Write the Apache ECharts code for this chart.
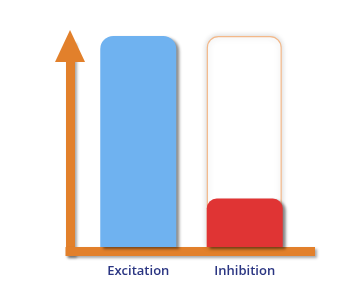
<!DOCTYPE html>
<html><head><meta charset="utf-8">
<script src="https://cdn.jsdelivr.net/npm/echarts@6/dist/echarts.min.js"></script>
<style>html,body{margin:0;padding:0;background:#fff}#c{width:340px;height:300px}</style>
</head><body><div id="c"></div>
<script>
var categories = ['Excitation', 'Inhibition'];
var activity = [100, 23];
var capacity = [null, 100];
var barColors = ['#6fb2f0', '#e03434'];
var barRadius = [13, 10];

var chart = echarts.init(document.getElementById('c'), null, {renderer: 'canvas'});
var orange = '#e2802b';
var shadow = {shadowColor: 'rgba(0,0,0,0.35)', shadowBlur: 3, shadowOffsetX: 2, shadowOffsetY: 2};
chart.setOption({
  animation: false,
  grid: [
    {left: 70, right: 29.5, top: 46, bottom: 48.5},
    {left: 85, right: 42, top: 36, bottom: 53}
  ],
  xAxis: [
    {gridIndex: 0, type: 'value', min: 0, max: 1, z: 1,
     axisLine: {show: true, lineStyle: Object.assign({color: orange, width: 9, cap: 'square'}, shadow)},
     axisTick: {show: false}, axisLabel: {show: false}, splitLine: {show: false}},
    {gridIndex: 1, type: 'category', data: categories, z: 5,
     axisLine: {show: false}, axisTick: {show: false},
     axisLabel: {color: '#2a3582', fontSize: 13, fontWeight: 600, fontFamily: 'Open Sans', margin: 18}}
  ],
  yAxis: [
    {gridIndex: 0, type: 'value', min: 0, max: 1, z: 1,
     axisLine: {show: true, symbol: ['none', 'triangle'], symbolSize: [30, 32],
       lineStyle: Object.assign({color: orange, width: 9, cap: 'square'}, shadow)},
     axisTick: {show: false}, axisLabel: {show: false}, splitLine: {show: false}},
    {gridIndex: 1, type: 'value', min: 0, max: 100,
     axisLine: {show: false}, axisTick: {show: false}, axisLabel: {show: false}, splitLine: {show: false}}
  ],
  series: [
    {type: 'bar', xAxisIndex: 1, yAxisIndex: 1, data: capacity, barWidth: 75, z: 2,
     itemStyle: {color: '#ffffff', borderColor: '#f3b889', borderWidth: 1.2, borderRadius: [11, 11, 0, 0],
       shadowColor: 'rgba(0,0,0,0.18)', shadowBlur: 6, shadowOffsetX: 0, shadowOffsetY: 0}},
    {type: 'bar', xAxisIndex: 1, yAxisIndex: 1, barWidth: 76, barGap: '-100%', z: 3,
     data: activity.map(function (v, i) {
       return {value: v, itemStyle: {color: barColors[i], borderRadius: [barRadius[i], barRadius[i], 0, 0]}};
     }),
     itemStyle: {shadowColor: 'rgba(0,0,0,0.45)', shadowBlur: 3, shadowOffsetX: 3, shadowOffsetY: 2}}
  ]
});
</script></body></html>
